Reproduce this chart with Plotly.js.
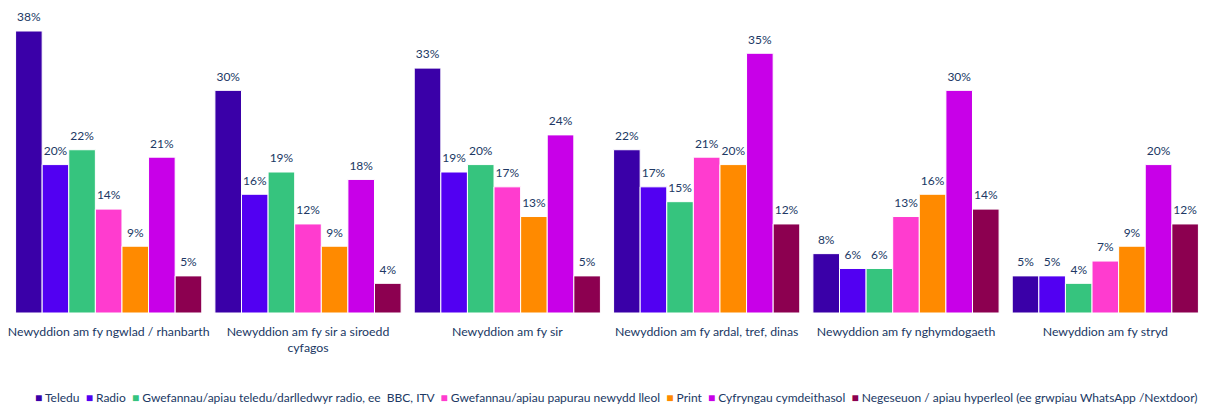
<!DOCTYPE html>
<html>
<head>
<meta charset="utf-8">
<script src="https://cdn.plot.ly/plotly-3.0.1.min.js"></script>
<style>html,body{margin:0;padding:0;background:#fff;}#chart{width:1212px;height:407px;}</style>
</head>
<body>
<div id="chart"></div>
<script>
const categories = [
  "Newyddion am fy ngwlad / rhanbarth",
  "Newyddion am fy sir a siroedd<br>cyfagos",
  "Newyddion am fy sir",
  "Newyddion am fy ardal, tref, dinas",
  "Newyddion am fy nghymdogaeth",
  "Newyddion am fy stryd"
];
const seriesNames = [
  "Teledu",
  "Radio",
  "Gwefannau/apiau teledu/darlledwyr radio, ee  BBC, ITV",
  "Gwefannau/apiau papurau newydd lleol",
  "Print",
  "Cyfryngau cymdeithasol",
  "Negeseuon / apiau hyperleol (ee grwpiau WhatsApp /Nextdoor)"
];
const teledu = [38, 30, 33, 22, 8, 5];
const radio = [20, 16, 19, 17, 6, 5];
const gwefannauTeledu = [22, 19, 20, 15, 6, 4];
const gwefannauPapurau = [14, 12, 17, 21, 13, 7];
const print = [9, 9, 13, 20, 16, 9];
const cyfryngau = [21, 18, 24, 35, 30, 20];
const negeseuon = [5, 4, 5, 12, 14, 12];
const seriesValues = [teledu, radio, gwefannauTeledu, gwefannauPapurau, print, cyfryngau, negeseuon];
const colors = ["#3a00a8", "#5200f2", "#36c47e", "#ff3ccf", "#ff8a00", "#c800e8", "#8c0050"];

const textColor = "#203864";
const fontFamily = "Lato, 'Open Sans', sans-serif";

const barTraces = seriesValues.map((vals, i) => ({
  type: "bar",
  name: seriesNames[i],
  x: categories,
  y: vals,
  marker: {color: colors[i], line: {color: "#ffffff", width: 1}},
  hoverinfo: "none"
}));

// value labels, grouped like the bars so they sit above each bar
const labelTraces = seriesValues.map((vals, i) => ({
  type: "scatter",
  mode: "markers+text",
  name: seriesNames[i] + " label",
  x: categories,
  y: vals,
  text: vals.map(v => v + "%"),
  textposition: "top center",
  marker: {size: 9, opacity: 0, color: colors[i]},
  cliponaxis: false,
  textfont: {color: textColor, size: 12, family: fontFamily},
  hoverinfo: "none",
  showlegend: false
}));

// Legend line built from the series names and colours
const legendText = seriesNames.map((n, i) =>
  "<span style='color:" + colors[i] + "'>■</span> " + n
).join("  ");

const layout = {
  width: 1212,
  height: 407,
  margin: {l: 9, r: 7, t: 31, b: 94},
  barmode: "group",
  bargap: 0.066,
  bargroupgap: 0,
  scattermode: "group",
  scattergap: 0.066,
  paper_bgcolor: "#ffffff",
  plot_bgcolor: "#ffffff",
  font: {family: fontFamily, color: textColor, size: 12},
  showlegend: false,
  annotations: [{
    text: legendText,
    xref: "paper", yref: "paper",
    x: 0.508, xanchor: "center",
    y: -0.298, yanchor: "middle",
    showarrow: false,
    font: {size: 12, color: textColor, family: fontFamily}
  }],
  xaxis: {
    showgrid: false, zeroline: false, showline: false,
    ticks: "", ticklabelstandoff: 10,
    tickfont: {size: 12.3, color: textColor, family: fontFamily},
    automargin: false
  },
  yaxis: {
    range: [0, 38], visible: false, showgrid: false, zeroline: false, fixedrange: true
  }
};

Plotly.newPlot("chart", barTraces.concat(labelTraces), layout, {displayModeBar: false, staticPlot: true});
</script>
</body>
</html>
